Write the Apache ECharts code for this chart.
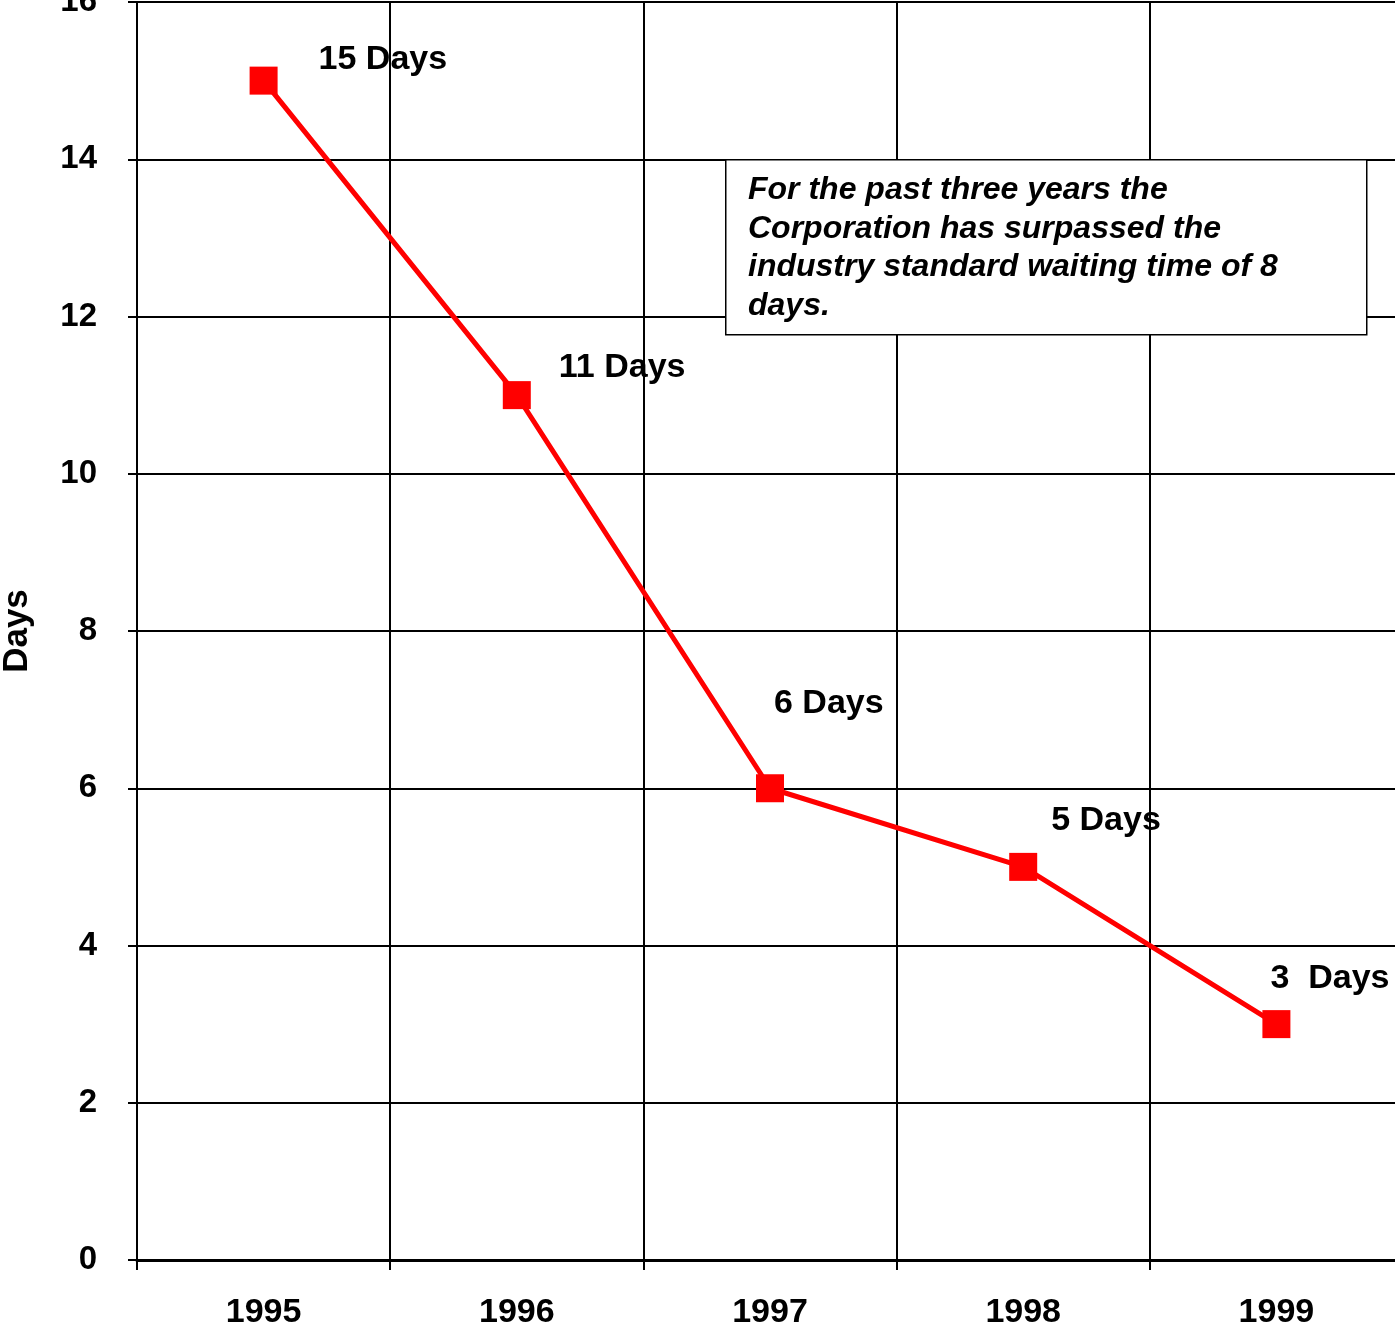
<!DOCTYPE html>
<html><head><meta charset="utf-8">
<script src="https://cdn.jsdelivr.net/npm/echarts@6/dist/echarts.min.js"></script>
<style>html,body{margin:0;padding:0;background:#fff}#c{width:1395px;height:1339px}</style>
</head><body><div id="c"></div>
<script>
const years = ['1995','1996','1997','1998','1999'];
const days = [15, 11, 6, 5, 3];
const pointLabels = ['15 Days','11 Days','6 Days','5 Days','3  Days'];
const yTicks = [0,2,4,6,8,10,12,14,16];
const noteLines = ['For the past three years the','Corporation has surpassed the','industry standard waiting time of 8','days.'];

const labelOffsets = [[55,-21],[42,-28],[4,-85],[28,-46],[-6,-46]];
const font = 'Liberation Sans, Arial, sans-serif';

const chart = echarts.init(document.getElementById('c'), null, {renderer:'canvas'});
chart.setOption({
  animation:false,
  backgroundColor:'#fff',
  grid:{left:137, top:2, width:1266, height:1258, containLabel:false, outerBoundsMode:'none'},
  xAxis:{
    type:'category', data:years, boundaryGap:true,
    axisLine:{show:true, lineStyle:{color:'#000', width:3}},
    axisTick:{show:true, length:10, lineStyle:{color:'#000', width:2}},
    axisLabel:{color:'#000', fontFamily:font, fontWeight:'bold', fontSize:34, margin:36},
    splitLine:{show:true, lineStyle:{color:'#000', width:2}}
  },
  yAxis:{
    type:'value', min:0, max:16, interval:2,
    name:'Days', nameLocation:'middle', nameGap:102, nameRotate:90,
    nameTextStyle:{color:'#000', fontFamily:font, fontWeight:'bold', fontSize:35},
    axisLine:{show:true, lineStyle:{color:'#000', width:2}},
    axisTick:{show:true, length:9, lineStyle:{color:'#000', width:2}},
    axisLabel:{color:'#000', fontFamily:font, fontWeight:'bold', fontSize:33, margin:40,
      formatter:function(v){ return yTicks.indexOf(v)>=0 ? String(v) : ''; }},
    splitLine:{show:true, lineStyle:{color:'#000', width:2}}
  },
  series:[{
    type:'line',
    data:days.map(function(v,i){
      return {value:v, label:{offset:labelOffsets[i]}};
    }),
    symbol:'rect', symbolSize:28,
    itemStyle:{color:'#ff0000'},
    lineStyle:{color:'#ff0000', width:5},
    label:{show:true, position:'inside', align:'left', verticalAlign:'middle',
      color:'#000', fontFamily:font, fontWeight:'bold', fontSize:34,
      formatter:function(p){ return pointLabels[p.dataIndex]; }},
    z:5
  }],
  graphic:{
    elements:[
      {type:'rect', z:100, zlevel:0, left:725, top:159, shape:{x:0,y:0,width:641,height:175},
       style:{fill:'#fff', stroke:'#000', lineWidth:1.5}},
      {type:'text', z:101, left:748, top:171,
       style:{text:noteLines.join('\n'), fill:'#000', font:'italic bold 32px Liberation Sans, Arial, sans-serif', lineHeight:38.5}}
    ]
  }
});
</script></body></html>
